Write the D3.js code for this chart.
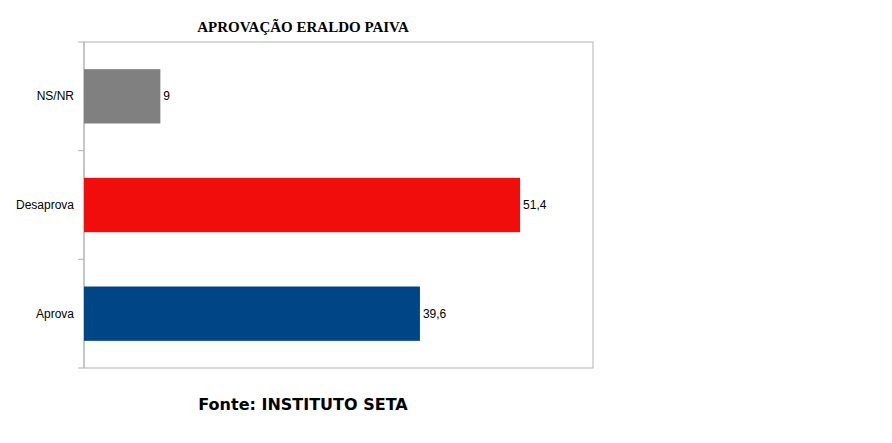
<!DOCTYPE html>
<html><head><meta charset="utf-8">
<script src="https://cdn.jsdelivr.net/npm/d3@7"></script>
<style>body{margin:0;background:#fff}</style></head>
<body><svg id="c" width="892" height="443"></svg>
<script>
const categories = ["NS/NR","Desaprova","Aprova"];
const values = [9, 51.4, 39.6];
const labels = ["9","51,4","39,6"];
const colors = ["#808080","#f20d0d","#004586"];

const svg = d3.select("#c");
const L=84,R=593,T=42,B=368;
const x = d3.scaleLinear().domain([0,60]).range([L,R]);
const y = d3.scaleBand().domain(categories).range([T,B]).paddingInner(0.5).paddingOuter(0.25);

svg.append("rect").attr("x",L).attr("y",T).attr("width",R-L).attr("height",B-T)
  .attr("fill","none").attr("stroke","#b3b3b3");
// tick marks at band boundaries
const step = (B-T)/categories.length;
for(let i=0;i<=categories.length;i++){
  svg.append("line").attr("x1",78).attr("x2",L).attr("y1",T+i*step).attr("y2",T+i*step).attr("stroke","#b3b3b3");
}
svg.append("line").attr("x1",L).attr("x2",L).attr("y1",T).attr("y2",B).attr("stroke","#b3b3b3");

svg.selectAll(".bar").data(values).enter().append("rect")
  .attr("x",L).attr("y",(d,i)=>y(categories[i])).attr("width",d=>x(d)-L)
  .attr("height",y.bandwidth()).attr("fill",(d,i)=>colors[i]);

svg.selectAll(".val").data(values).enter().append("text")
  .attr("x",d=>x(d)+3).attr("y",(d,i)=>y(categories[i])+y.bandwidth()/2+4)
  .attr("font-family","Liberation Sans, Arial").attr("font-size",12).text((d,i)=>labels[i]);

svg.selectAll(".cat").data(categories).enter().append("text")
  .attr("x",74).attr("y",d=>y(d)+y.bandwidth()/2+4).attr("text-anchor","end")
  .attr("font-family","Liberation Sans, Arial").attr("font-size",12).text(d=>d);

svg.append("text").attr("x",303).attr("y",32).attr("text-anchor","middle")
  .attr("font-family","Liberation Serif, Times New Roman").attr("font-weight","bold").attr("font-size",15)
  .text("APROVAÇÃO ERALDO PAIVA");
svg.append("text").attr("x",303).attr("y",410).attr("text-anchor","middle")
  .attr("font-family","DejaVu Sans, sans-serif").attr("font-weight","bold").attr("font-size",16)
  .text("Fonte: INSTITUTO SETA");
</script></body></html>
